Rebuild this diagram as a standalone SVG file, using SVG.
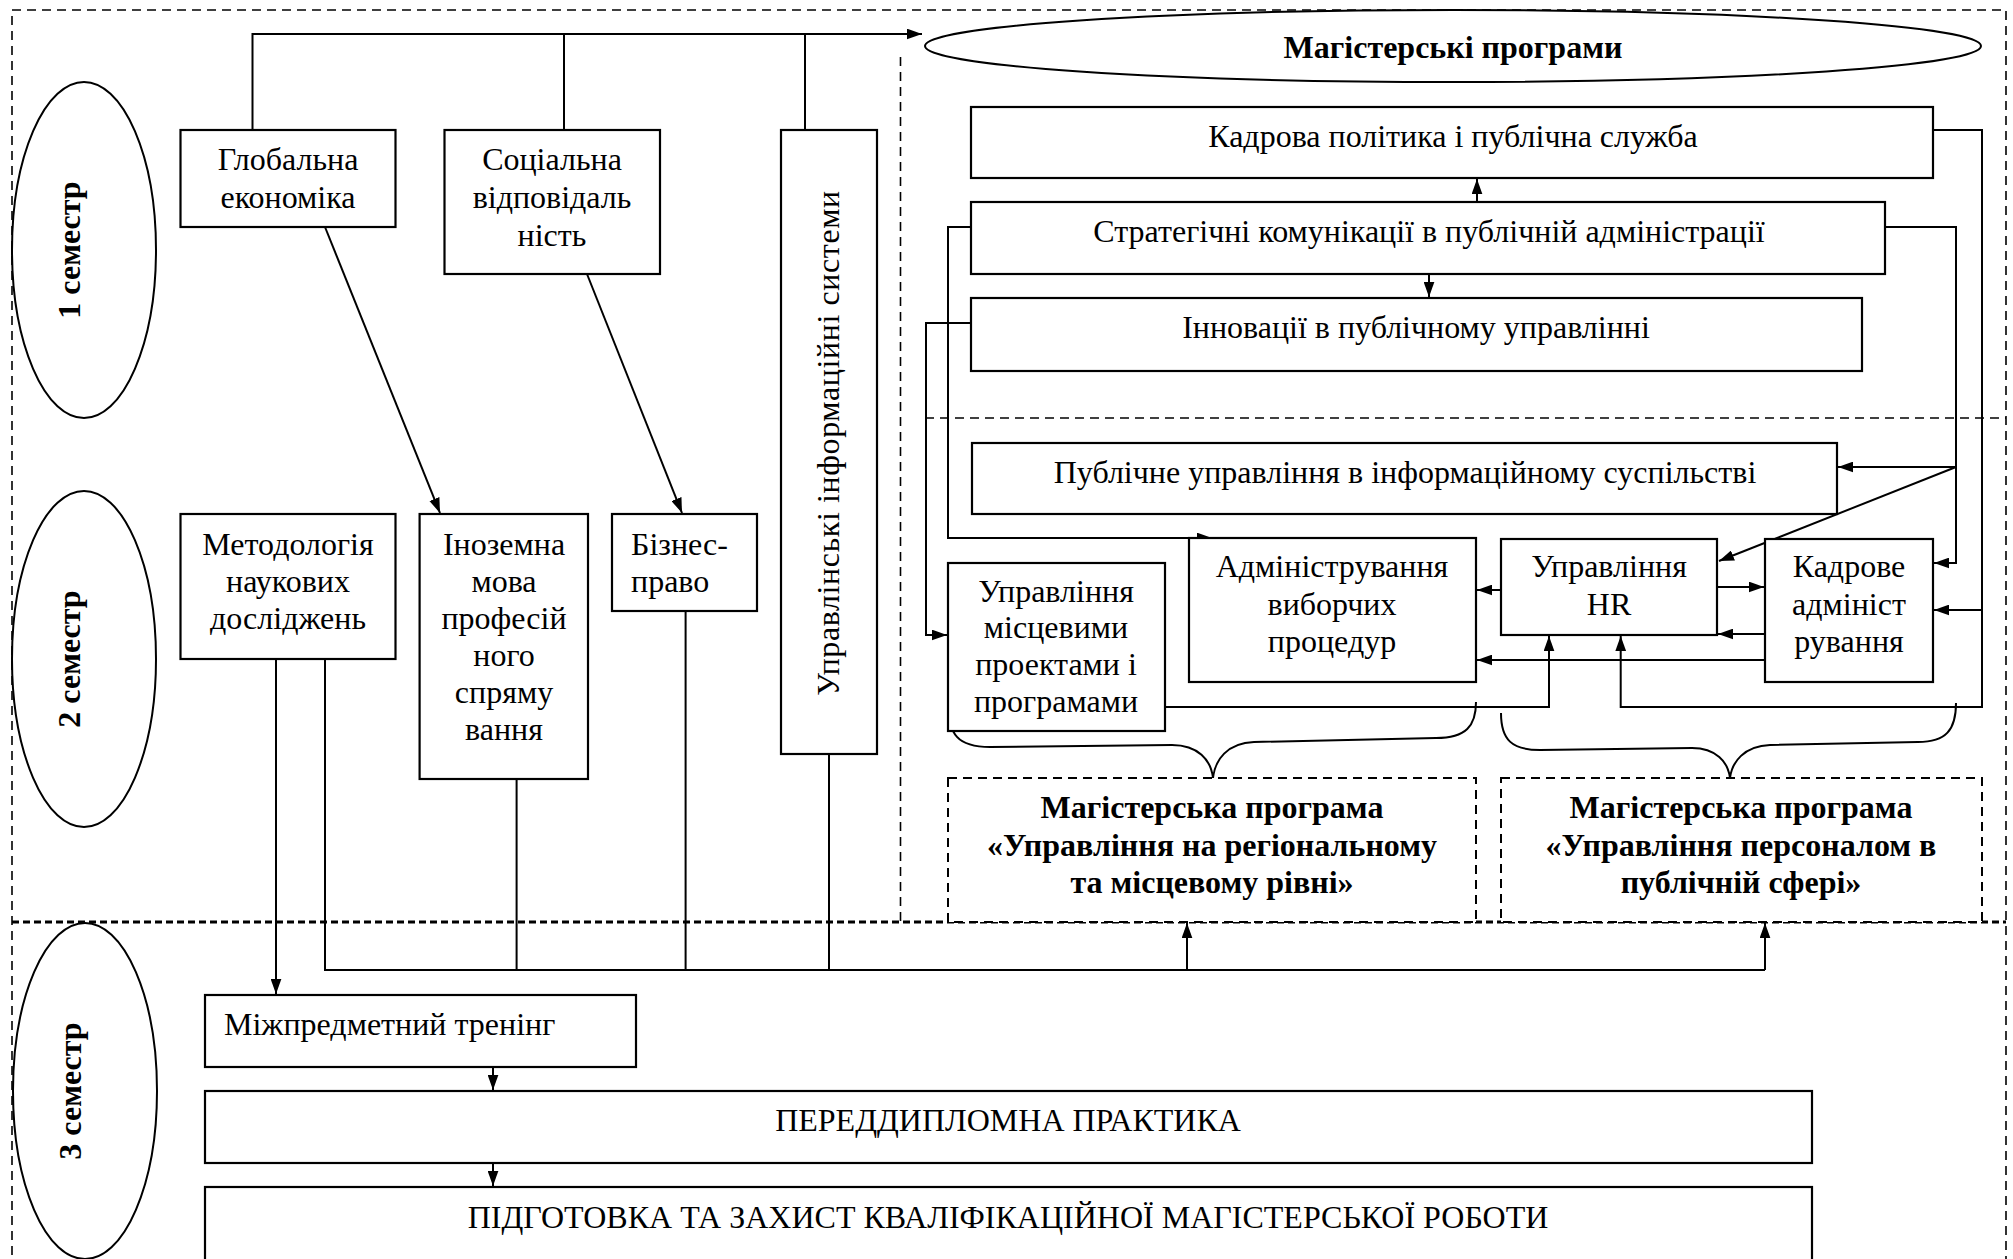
<svg xmlns="http://www.w3.org/2000/svg" width="2013" height="1259" viewBox="0 0 2013 1259">
<defs>
<marker id="ah" viewBox="0 0 14 10" refX="14" refY="5" markerWidth="15" markerHeight="11" markerUnits="userSpaceOnUse" orient="auto"><path d="M0,0 L14,5 L0,10 z" fill="#000"/></marker>
</defs>
<style>
.bx{fill:#fff;stroke:#000;stroke-width:2.2}
.dsh{fill:none;stroke:#000;stroke-width:1.6;stroke-dasharray:9 6}
.dbx{fill:#fff;stroke:#000;stroke-width:2;stroke-dasharray:9 6}
.el{fill:#fff;stroke:#000;stroke-width:2}
.ln{fill:none;stroke:#000;stroke-width:2}
.ar{fill:none;stroke:#000;stroke-width:2;marker-end:url(#ah)}
text{font-family:"Liberation Serif","Times New Roman",serif;font-size:32px;fill:#000}
.c{text-anchor:middle}
.b{font-weight:bold}
</style>
<rect width="2013" height="1259" fill="#fff"/>
<g id="frame">
<path class="dsh" d="M12,1270 V10 H2006 V1270"/>
<path class="dsh" d="M900.5,57 V922"/>
<path class="dsh" d="M925,418 H2006"/>
<path class="dsh" d="M12,922 H2006" style="stroke-width:3;stroke-dasharray:7 4"/>
</g>
<g id="sem1"><ellipse class="el" cx="84" cy="250" rx="72" ry="168"/><text class="c b" transform="translate(80,250) rotate(-90)">1 семестр</text></g>
<g id="sem2"><ellipse class="el" cx="84" cy="659" rx="72" ry="168"/><text class="c b" transform="translate(80,659) rotate(-90)">2 семестр</text></g>
<g id="sem3"><ellipse class="el" cx="85" cy="1091" rx="72" ry="168"/><text class="c b" transform="translate(81,1091) rotate(-90)">3 семестр</text></g>
<g id="connectors">
<path class="ar" d="M252.5,130 V34 H922"/>
<path class="ln" d="M564,130 V34 M805,130 V34"/>
<path class="ar" d="M325,227 L440,513"/>
<path class="ar" d="M587,274 L682,513"/>
<path class="ar" d="M1477,202 V179"/>
<path class="ar" d="M1429,274 V297"/>
<path class="ar" d="M971,227 H948 V538 H1212"/>
<path class="ar" d="M971,323 H926 V635 H947"/>
<path class="ar" d="M1933,130 H1982 V707 H1620.7 V636"/>
<path class="ar" d="M1982,610 H1934"/>
<path class="ar" d="M1885,227 H1956 V563 H1934"/>
<path class="ar" d="M1956,467 H1838"/>
<path class="ar" d="M1956,467 L1719,561"/>
<path class="ar" d="M1501,590 H1477"/>
<path class="ar" d="M1716,587 H1764"/>
<path class="ar" d="M1765,634 H1718"/>
<path class="ar" d="M1765,660 H1477"/>
<path class="ar" d="M1165,707 H1549 V636"/>
<path class="ar" d="M276,659 V994"/>
<path class="ln" d="M325,659 V970 H1765 M516.6,779 V970 M685.6,611 V970 M829,754 V970"/>
<path class="ar" d="M1187,970 V923"/>
<path class="ar" d="M1765,970 V923"/>
<path class="ar" d="M493,1067 V1090"/>
<path class="ar" d="M493,1163 V1186"/>
<path class="ln" d="M948,702 C948,735 958,747 990,747 L1172,745 C1198,745 1211,760 1213,778 C1215,760 1227,743 1254,742 L1436,738 C1466,738 1476,726 1476,702"/>
<path class="ln" d="M1501,713 C1501,740 1512,750 1540,750 L1692,748 C1716,748 1728,762 1730,778 C1732,762 1744,746 1770,745 L1918,742 C1946,742 1956,730 1956,703"/>
</g>
<g id="n-title"><ellipse class="el" cx="1453" cy="46" rx="528" ry="36"/><text class="c b" x="1453" y="58">Магістерські програми</text></g>
<g id="n-global"><rect class="bx" x="180.5" y="130" width="215" height="97"/><text class="c" x="288" y="170">Глобальна</text><text class="c" x="288" y="208">економіка</text></g>
<g id="n-social"><rect class="bx" x="444.5" y="130" width="215.5" height="144"/><text class="c" x="552" y="170">Соціальна</text><text class="c" x="552" y="208">відповідаль</text><text class="c" x="552" y="246">ність</text></g>
<g id="n-uis"><rect class="bx" x="781" y="130" width="96" height="624"/><text class="c" transform="translate(839,443) rotate(-90)" style="letter-spacing:0.6px">Управлінські інформаційні системи</text></g>
<g id="n-method"><rect class="bx" x="180.5" y="514" width="215" height="145"/><text class="c" x="288" y="555">Методологія</text><text class="c" x="288" y="592">наукових</text><text class="c" x="288" y="629">досліджень</text></g>
<g id="n-foreign"><rect class="bx" x="419.6" y="514" width="168.4" height="265"/><text class="c" x="504" y="555">Іноземна</text><text class="c" x="504" y="592">мова</text><text class="c" x="504" y="629">професій</text><text class="c" x="504" y="666">ного</text><text class="c" x="504" y="703">спряму</text><text class="c" x="504" y="740">вання</text></g>
<g id="n-biz"><rect class="bx" x="612" y="514" width="145" height="97"/><text x="631" y="555">Бізнес-</text><text x="631" y="592">право</text></g>
<g id="n-kadrova"><rect class="bx" x="971" y="107" width="962" height="71"/><text class="c" x="1453" y="147">Кадрова політика і публічна служба</text></g>
<g id="n-strat"><rect class="bx" x="971" y="202" width="914" height="72"/><text class="c" x="1429" y="242">Стратегічні комунікації в публічній адміністрації</text></g>
<g id="n-innov"><rect class="bx" x="971" y="298" width="891" height="73"/><text class="c" x="1416" y="338">Інновації в публічному управлінні</text></g>
<g id="n-public"><rect class="bx" x="972" y="443" width="865" height="71"/><text class="c" x="1405" y="483">Публічне управління в інформаційному суспільстві</text></g>
<g id="n-admin"><rect class="bx" x="1189" y="538" width="287" height="144"/><text class="c" x="1332" y="577">Адміністрування</text><text class="c" x="1332" y="615">виборчих</text><text class="c" x="1332" y="652">процедур</text></g>
<g id="n-hr"><rect class="bx" x="1501" y="539" width="216" height="96"/><text class="c" x="1609" y="577">Управління</text><text class="c" x="1609" y="615">HR</text></g>
<g id="n-kadrove"><rect class="bx" x="1765" y="539" width="168" height="143"/><text class="c" x="1849" y="577">Кадрове</text><text class="c" x="1849" y="615">адмініст</text><text class="c" x="1849" y="652">рування</text></g>
<g id="n-local"><rect class="bx" x="948" y="563" width="217" height="168"/><text class="c" x="1056" y="602">Управління</text><text class="c" x="1056" y="638">місцевими</text><text class="c" x="1056" y="675">проектами і</text><text class="c" x="1056" y="712">програмами</text></g>
<g id="n-prog1"><rect class="dbx" x="948" y="778" width="528" height="144"/><text class="c b" x="1212" y="818">Магістерська програма</text><text class="c b" x="1212" y="856">«Управління на регіональному</text><text class="c b" x="1212" y="893">та місцевому рівні»</text></g>
<g id="n-prog2"><rect class="dbx" x="1501" y="778" width="481" height="144"/><text class="c b" x="1741" y="818">Магістерська програма</text><text class="c b" x="1741" y="856">«Управління персоналом в</text><text class="c b" x="1741" y="893">публічній сфері»</text></g>
<g id="n-training"><rect class="bx" x="205" y="995" width="431" height="72"/><text x="224" y="1035">Міжпредметний тренінг</text></g>
<g id="n-practice"><rect class="bx" x="205" y="1091" width="1607" height="72"/><text class="c" x="1008" y="1131">ПЕРЕДДИПЛОМНА ПРАКТИКА</text></g>
<g id="n-thesis"><rect class="bx" x="205" y="1187" width="1607" height="80"/><text class="c" x="1008" y="1228">ПІДГОТОВКА ТА ЗАХИСТ КВАЛІФІКАЦІЙНОЇ МАГІСТЕРСЬКОЇ РОБОТИ</text></g>
</svg>
